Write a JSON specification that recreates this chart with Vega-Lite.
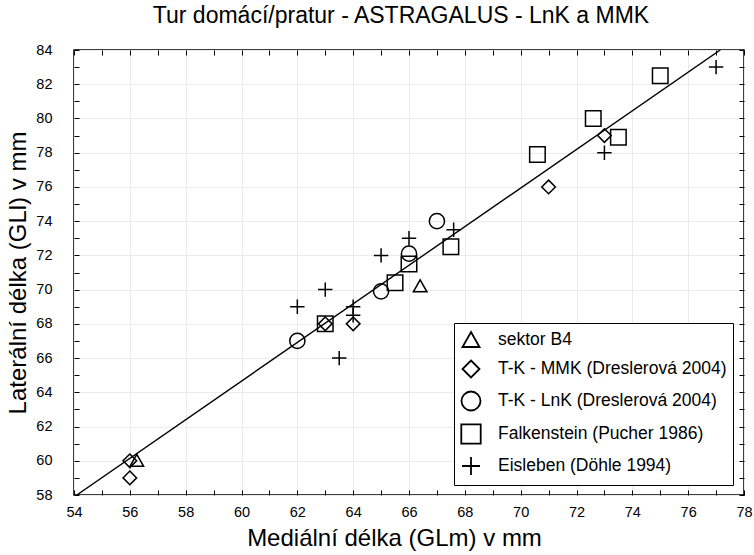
{
  "$schema": "https://vega.github.io/schema/vega-lite/v6.json",
  "width": 670,
  "height": 445,
  "autosize": {"type": "none"},
  "padding": {"left": 74, "top": 50, "right": 10, "bottom": 60},
  "background": "white",
  "title": {"text": "Tur domácí/pratur - ASTRAGALUS - LnK a MMK", "font": "Liberation Sans", "fontSize": 23, "fontWeight": "normal", "color": "black", "anchor": "middle", "offset": 14, "dx": -8},
  "config": {
    "view": {"stroke": "black", "strokeWidth": 1.5},
    "font": "Liberation Sans"
  },
  "resolve": {"axis": {"x": "independent", "y": "independent"}},
  "layer": [
    {
      "data": {"values": [{"x": 54.1, "y": 58}, {"x": 77.15, "y": 84}]},
      "mark": {"type": "line", "color": "black", "strokeWidth": 1.4, "clip": true},
      "encoding": {
        "x": {"field": "x", "type": "quantitative", "scale": {"domain": [54, 78], "nice": false, "zero": false},
          "axis": {"orient": "bottom", "values": [54,55,56,57,58,59,60,61,62,63,64,65,66,67,68,69,70,71,72,73,74,75,76,77,78],
            "labelExpr": "datum.value % 2 === 0 ? datum.label : ''", "labelOverlap": false, "labelFlush": false,
            "labelFontSize": 14.5, "labelColor": "black", "labelPadding": 15,
            "tickSize": -5, "tickColor": "black", "domain": false,
            "grid": true, "gridColor": {"condition": {"test": "datum.value % 2 === 0", "value": "#ebebeb"}, "value": "transparent"},
            "title": "Mediální délka (GLm) v mm", "titleFontSize": 24, "titleFontWeight": "normal", "titleColor": "black",
            "titleX": 320, "titleY": 50, "titleBaseline": "alphabetic", "titleAnchor": null}},
        "y": {"field": "y", "type": "quantitative", "scale": {"domain": [58, 84], "nice": false, "zero": false},
          "axis": {"orient": "left", "values": [58,59,60,61,62,63,64,65,66,67,68,69,70,71,72,73,74,75,76,77,78,79,80,81,82,83,84],
            "labelExpr": "datum.value % 2 === 0 ? datum.label : ''", "labelOverlap": false, "labelFlush": false,
            "labelFontSize": 14.5, "labelColor": "black", "labelPadding": 27,
            "tickSize": -5, "tickColor": "black", "domain": false,
            "grid": true, "gridColor": {"condition": {"test": "datum.value % 2 === 0", "value": "#ebebeb"}, "value": "transparent"},
            "title": "Laterální délka (GLl) v mm", "titleFontSize": 24, "titleFontWeight": "normal", "titleColor": "black",
            "titleX": -56, "titleY": 222.5, "titleAngle": -90, "titleBaseline": "middle", "titleAlign": "center"}}
      }
    },
    {
      "data": {"values": [
        {"group": "sektor B4", "x": 56.25, "y": 60},
        {"group": "sektor B4", "x": 66.4, "y": 70.2},
        {"group": "T-K - MMK (Dreslerová 2004)", "x": 56, "y": 60},
        {"group": "T-K - MMK (Dreslerová 2004)", "x": 56, "y": 59},
        {"group": "T-K - MMK (Dreslerová 2004)", "x": 63, "y": 68},
        {"group": "T-K - MMK (Dreslerová 2004)", "x": 64, "y": 68},
        {"group": "T-K - MMK (Dreslerová 2004)", "x": 71, "y": 76},
        {"group": "T-K - MMK (Dreslerová 2004)", "x": 73, "y": 79},
        {"group": "T-K - LnK (Dreslerová 2004)", "x": 62, "y": 67},
        {"group": "T-K - LnK (Dreslerová 2004)", "x": 65, "y": 69.9},
        {"group": "T-K - LnK (Dreslerová 2004)", "x": 66, "y": 72.1},
        {"group": "T-K - LnK (Dreslerová 2004)", "x": 67, "y": 74},
        {"group": "Falkenstein (Pucher 1986)", "x": 63, "y": 68},
        {"group": "Falkenstein (Pucher 1986)", "x": 65.5, "y": 70.4},
        {"group": "Falkenstein (Pucher 1986)", "x": 66, "y": 71.5},
        {"group": "Falkenstein (Pucher 1986)", "x": 67.5, "y": 72.5},
        {"group": "Falkenstein (Pucher 1986)", "x": 70.6, "y": 77.9},
        {"group": "Falkenstein (Pucher 1986)", "x": 72.6, "y": 80},
        {"group": "Falkenstein (Pucher 1986)", "x": 73.5, "y": 78.9},
        {"group": "Falkenstein (Pucher 1986)", "x": 75, "y": 82.5},
        {"group": "Eisleben (Döhle 1994)", "x": 77, "y": 83},
        {"group": "Eisleben (Döhle 1994)", "x": 73, "y": 78},
        {"group": "Eisleben (Döhle 1994)", "x": 67.6, "y": 73.5},
        {"group": "Eisleben (Döhle 1994)", "x": 66, "y": 73},
        {"group": "Eisleben (Döhle 1994)", "x": 65, "y": 72},
        {"group": "Eisleben (Döhle 1994)", "x": 63, "y": 70},
        {"group": "Eisleben (Döhle 1994)", "x": 62, "y": 69},
        {"group": "Eisleben (Döhle 1994)", "x": 64, "y": 69},
        {"group": "Eisleben (Döhle 1994)", "x": 64, "y": 68.5},
        {"group": "Eisleben (Döhle 1994)", "x": 63.5, "y": 66}
      ]},
      "mark": {"type": "point", "filled": false, "color": "black", "strokeWidth": 1.5, "size": 256, "opacity": 1},
      "encoding": {
        "x": {"field": "x", "type": "quantitative", "scale": {"domain": [54, 78], "nice": false, "zero": false},
          "axis": {"orient": "top", "values": [54,55,56,57,58,59,60,61,62,63,64,65,66,67,68,69,70,71,72,73,74,75,76,77,78],
            "labels": false, "title": null, "tickSize": -5, "tickColor": "black", "domain": false, "grid": false}},
        "y": {"field": "y", "type": "quantitative", "scale": {"domain": [58, 84], "nice": false, "zero": false},
          "axis": {"orient": "right", "values": [58,59,60,61,62,63,64,65,66,67,68,69,70,71,72,73,74,75,76,77,78,79,80,81,82,83,84],
            "labels": false, "title": null, "tickSize": -5, "tickColor": "black", "domain": false, "grid": false}},
        "shape": {"field": "group", "type": "nominal",
          "scale": {"domain": ["sektor B4", "T-K - MMK (Dreslerová 2004)", "T-K - LnK (Dreslerová 2004)", "Falkenstein (Pucher 1986)", "Eisleben (Döhle 1994)"],
            "range": ["M0,-0.8L0.85,0.7L-0.85,0.7Z", "M0,-0.85L0.85,0L0,0.85L-0.85,0Z", "M0.95,0A0.95,0.95,0,1,1,-0.95,0A0.95,0.95,0,1,1,0.95,0Z", "M-0.97,-0.97L0.97,-0.97L0.97,0.97L-0.97,0.97Z", "M-0.9,0L0.9,0M0,-0.9L0,0.9"]},
          "legend": {"title": null, "orient": "none", "legendX": 380, "legendY": 273,
            "fillColor": "white", "strokeColor": "black", "padding": 6, "symbolSize": 400, "symbolStrokeWidth": 1.8,
            "symbolStrokeColor": "black", "symbolFillColor": "transparent", "labelFontSize": 17.5, "labelColor": "black",
            "labelFont": "Liberation Sans", "labelOffset": 16, "rowPadding": 5, "labelLimit": 400,
            "encode": {"legend": {"update": {"strokeWidth": {"value": 1.5}}}}}}
      }
    }
  ]
}
